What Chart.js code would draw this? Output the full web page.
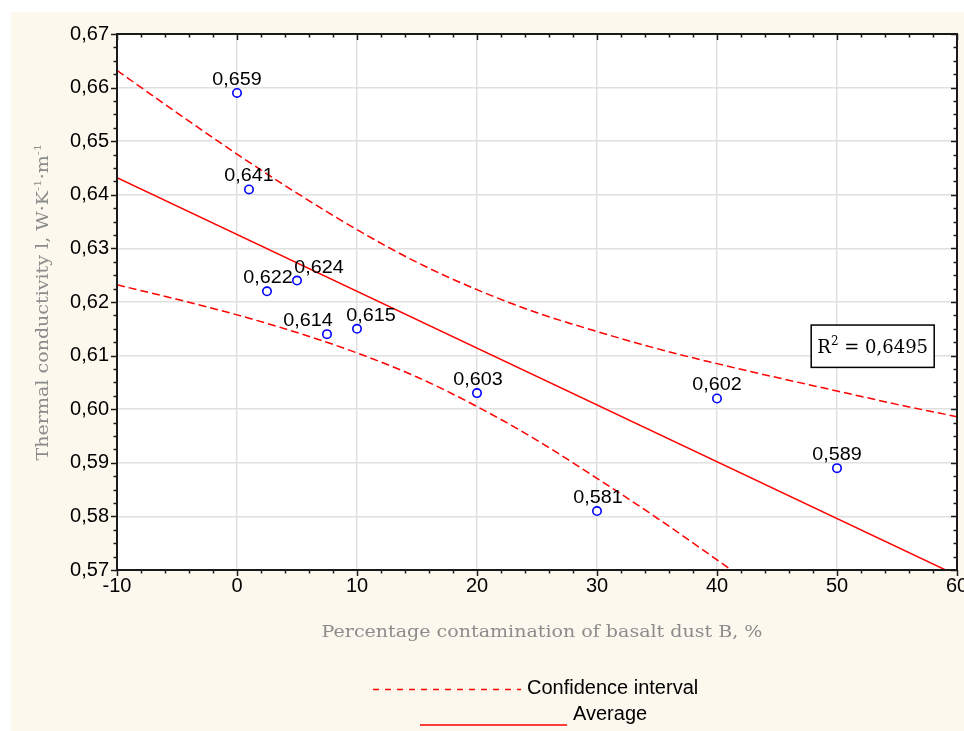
<!DOCTYPE html>
<html>
<head>
<meta charset="utf-8">
<script src="https://cdn.jsdelivr.net/npm/chart.js@4.4.1/dist/chart.umd.min.js"></script>
<style>
  html, body { margin: 0; padding: 0; background: #ffffff; overflow: hidden; }
  #wrap { width: 964px; height: 731px; position: relative; }
</style>
</head>
<body>
<div id="wrap"><canvas id="chart" width="964" height="731"></canvas></div>
<script>
// Measured thermal conductivity against basalt dust contamination
const contamination = [0, 1, 2.5, 5, 7.5, 10, 20, 30, 40, 50];
const conductivity  = [0.659, 0.641, 0.622, 0.624, 0.614, 0.615, 0.603, 0.581, 0.602, 0.589];

// Fitted average line (end points)
const fitX = [-10, 60];
const fitY = [0.6432, 0.5690];

// Confidence band
const upperX = [-10, -5, 0, 5, 10, 15, 20, 25, 30, 35, 40, 45, 50, 55, 60];
const upperY = [0.6632, 0.6553, 0.6476, 0.6403, 0.6335, 0.6274, 0.6223, 0.6180, 0.6145, 0.6113, 0.6085, 0.6059, 0.6034, 0.6009, 0.5986];
const lowerX = [-10, -5, 0, 5, 10, 15, 20, 25, 30, 35, 40, 42];
const lowerY = [0.6232, 0.6205, 0.6176, 0.6143, 0.6105, 0.6060, 0.6005, 0.5942, 0.5871, 0.5797, 0.5719, 0.5687];

// Axis ticks
const xTicks = [-10, 0, 10, 20, 30, 40, 50, 60];
const yTicks = [0.57, 0.58, 0.59, 0.60, 0.61, 0.62, 0.63, 0.64, 0.65, 0.66, 0.67];

const seriesNames = ['Confidence interval', 'Average'];
const xTitle = 'Percentage contamination of basalt dust B, %';
const rSquared = '0,6495';

const fmt = (v, d) => v.toFixed(d).replace('.', ',');
const pts = (xs, ys) => xs.map((x, i) => ({ x: x, y: ys[i] }));

const RED = '#ff0000';
const SANS = '"Liberation Sans", Arial, sans-serif';
const SERIF = '"DejaVu Serif", "Liberation Serif", serif';

// nudges for crowded value labels (pixels)
const labelNudge = [0, 0, 1, 22, -19, 14, 1, 1, 0, 0];

// draw text widened horizontally around its anchor
function wideText(ctx, text, x, y, sx) {
  ctx.save();
  ctx.translate(x, y);
  ctx.scale(sx, 1);
  ctx.fillText(text, 0, 0);
  ctx.restore();
}

const panelPlugin = {
  id: 'panel',
  beforeDraw(chart) {
    const { ctx, chartArea: a } = chart;
    ctx.save();
    ctx.fillStyle = '#ffffff';
    ctx.fillRect(0, 0, chart.width, chart.height);
    ctx.fillStyle = '#fcf8ee';
    ctx.fillRect(11, 12, chart.width - 11, chart.height - 12);
    ctx.fillStyle = '#ffffff';
    ctx.fillRect(a.left, a.top, a.right - a.left, a.bottom - a.top);
    ctx.restore();
  }
};

const framePlugin = {
  id: 'frame',
  afterDatasetsDraw(chart) {
    const { ctx, chartArea: a, scales: { x, y } } = chart;
    ctx.save();
    ctx.strokeStyle = '#1a1a1a';
    ctx.lineWidth = 1.5;
    // minor / major tick marks
    ctx.beginPath();
    for (let v = -10; v <= 60.001; v += 2) {
      const px = Math.round(x.getPixelForValue(v)) + 0.5;
      const major = Math.abs(v % 10) < 0.001;
      const len = major ? 6 : 3.5;
      ctx.moveTo(px, a.bottom); ctx.lineTo(px, a.bottom + len);
      ctx.moveTo(px, a.top); ctx.lineTo(px, a.top + len);
    }
    for (let k = 0; k <= 40; k++) {
      const v = 0.57 + k * 0.0025;
      const py = Math.round(y.getPixelForValue(v)) + 0.5;
      const len = k % 4 === 0 ? 6 : 3.5;
      ctx.moveTo(a.left, py); ctx.lineTo(a.left - len, py);
      ctx.moveTo(a.right, py); ctx.lineTo(a.right - len, py);
    }
    ctx.stroke();
    // frame
    ctx.lineWidth = 2;
    ctx.strokeRect(a.left, a.top, a.right - a.left, a.bottom - a.top);
    ctx.restore();
  },
  afterDraw(chart) {
    const { ctx, chartArea: a, scales: { x, y } } = chart;
    ctx.save();
    // value labels
    const meta = chart.getDatasetMeta(0);
    ctx.fillStyle = '#000000';
    ctx.font = '18px ' + SANS;
    ctx.textAlign = 'center';
    ctx.textBaseline = 'middle';
    meta.data.forEach((el, i) => {
      wideText(ctx, fmt(conductivity[i], 3), el.x + labelNudge[i], el.y - 13, 1.1);
    });

    // R² box
    const bx0 = x.getPixelForValue(47.85), bx1 = x.getPixelForValue(58.1);
    const by0 = y.getPixelForValue(0.6157), by1 = y.getPixelForValue(0.6078);
    ctx.fillStyle = '#ffffff';
    ctx.fillRect(bx0, by0, bx1 - bx0, by1 - by0);
    ctx.strokeStyle = '#000000';
    ctx.lineWidth = 1.5;
    ctx.strokeRect(bx0, by0, bx1 - bx0, by1 - by0);
    ctx.fillStyle = '#000000';
    ctx.textAlign = 'left';
    ctx.textBaseline = 'alphabetic';
    const big = '18px ' + SERIF, small = '12px ' + SERIF;
    ctx.font = big; const wR = ctx.measureText('R').width;
    ctx.font = small; const w2 = ctx.measureText('2').width;
    ctx.font = big; const wRest = ctx.measureText(' = ' + rSquared).width;
    let tx = (bx0 + bx1) / 2 - (wR + w2 + wRest) / 2;
    const base = (by0 + by1) / 2 + 7;
    ctx.fillText('R', tx, base); tx += wR;
    ctx.font = small; ctx.fillText('2', tx, base - 8); tx += w2;
    ctx.font = big; ctx.fillText(' = ' + rSquared, tx, base);

    // axis titles
    ctx.fillStyle = '#8c8c8c';
    ctx.font = '16px ' + SERIF;
    ctx.textAlign = 'center';
    ctx.textBaseline = 'middle';
    wideText(ctx, xTitle, (a.left + a.right) / 2 + 5, 633, 1.19);

    ctx.save();
    ctx.translate(42, (a.top + a.bottom) / 2);
    ctx.rotate(-Math.PI / 2);
    ctx.scale(1.19, 1);
    const parts = [
      ['Thermal conductivity l, W\u00B7K', false],
      ['-1', true],
      ['\u00B7m', false],
      ['-1', true]
    ];
    const fBig = '16px ' + SERIF, fSmall = '10px ' + SERIF;
    let total = 0;
    parts.forEach(p => { ctx.font = p[1] ? fSmall : fBig; total += ctx.measureText(p[0]).width; });
    let cx = -total / 2;
    ctx.textAlign = 'left';
    ctx.textBaseline = 'alphabetic';
    parts.forEach(p => {
      ctx.font = p[1] ? fSmall : fBig;
      ctx.fillText(p[0], cx, p[1] ? -1 : 6);
      cx += ctx.measureText(p[0]).width;
    });
    ctx.restore();

    // legend
    ctx.strokeStyle = RED;
    ctx.lineWidth = 1.5;
    ctx.setLineDash([6, 6]);
    ctx.beginPath(); ctx.moveTo(373, 689.5); ctx.lineTo(521, 689.5); ctx.stroke();
    ctx.setLineDash([]);
    ctx.beginPath(); ctx.moveTo(420, 725); ctx.lineTo(567, 725); ctx.stroke();
    ctx.fillStyle = '#000000';
    ctx.font = '20px ' + SANS;
    ctx.textAlign = 'left';
    ctx.textBaseline = 'middle';
    ctx.fillText(seriesNames[0], 527, 688);
    ctx.fillText(seriesNames[1], 573, 714);
    ctx.restore();
  }
};

new Chart(document.getElementById('chart'), {
  type: 'scatter',
  data: {
    datasets: [
      {
        label: 'Measured',
        data: pts(contamination, conductivity),
        pointStyle: 'circle',
        pointRadius: 4.2,
        pointBorderWidth: 1.6,
        pointBorderColor: '#0000ff',
        pointBackgroundColor: '#ffffff',
        showLine: false,
        order: 0
      },
      {
        label: seriesNames[1],
        type: 'line',
        data: pts(fitX, fitY),
        borderColor: RED,
        borderWidth: 1.5,
        pointRadius: 0,
        fill: false,
        order: 1
      },
      {
        label: seriesNames[0],
        type: 'line',
        data: pts(upperX, upperY),
        borderColor: RED,
        borderWidth: 1.5,
        borderDash: [8, 4],
        pointRadius: 0,
        cubicInterpolationMode: 'monotone',
        fill: false,
        order: 2
      },
      {
        label: seriesNames[0] + ' (lower)',
        type: 'line',
        data: pts(lowerX, lowerY),
        borderColor: RED,
        borderWidth: 1.5,
        borderDash: [8, 4],
        pointRadius: 0,
        cubicInterpolationMode: 'monotone',
        fill: false,
        order: 2
      }
    ]
  },
  options: {
    responsive: false,
    animation: false,
    events: [],
    layout: { padding: { left: 0, top: 34, right: 7, bottom: 0 } },
    plugins: { legend: { display: false }, tooltip: { enabled: false } },
    scales: {
      x: {
        type: 'linear',
        min: -10,
        max: 60,
        afterBuildTicks(s) { s.ticks = xTicks.map(v => ({ value: v })); },
        afterFit(s) { s.height = 161; s.paddingLeft = 0; s.paddingRight = 0; },
        grid: { color: '#e0e0e0', lineWidth: 1.5, drawTicks: false },
        border: { display: false },
        ticks: {
          color: '#000000',
          font: { family: SANS, size: 20 },
          padding: 4,
          maxRotation: 0,
          autoSkip: false,
          callback: v => String(v)
        }
      },
      y: {
        type: 'linear',
        min: 0.57,
        max: 0.67,
        afterBuildTicks(s) { s.ticks = yTicks.map(v => ({ value: v })); },
        afterFit(s) { s.width = 117; s.paddingTop = 0; s.paddingBottom = 0; },
        grid: { color: '#e0e0e0', lineWidth: 1.5, drawTicks: false },
        border: { display: false },
        ticks: {
          color: '#000000',
          font: { family: SANS, size: 20 },
          padding: 8,
          autoSkip: false,
          callback: v => fmt(v, 2)
        }
      }
    }
  },
  plugins: [panelPlugin, framePlugin]
});
</script>
</body>
</html>
